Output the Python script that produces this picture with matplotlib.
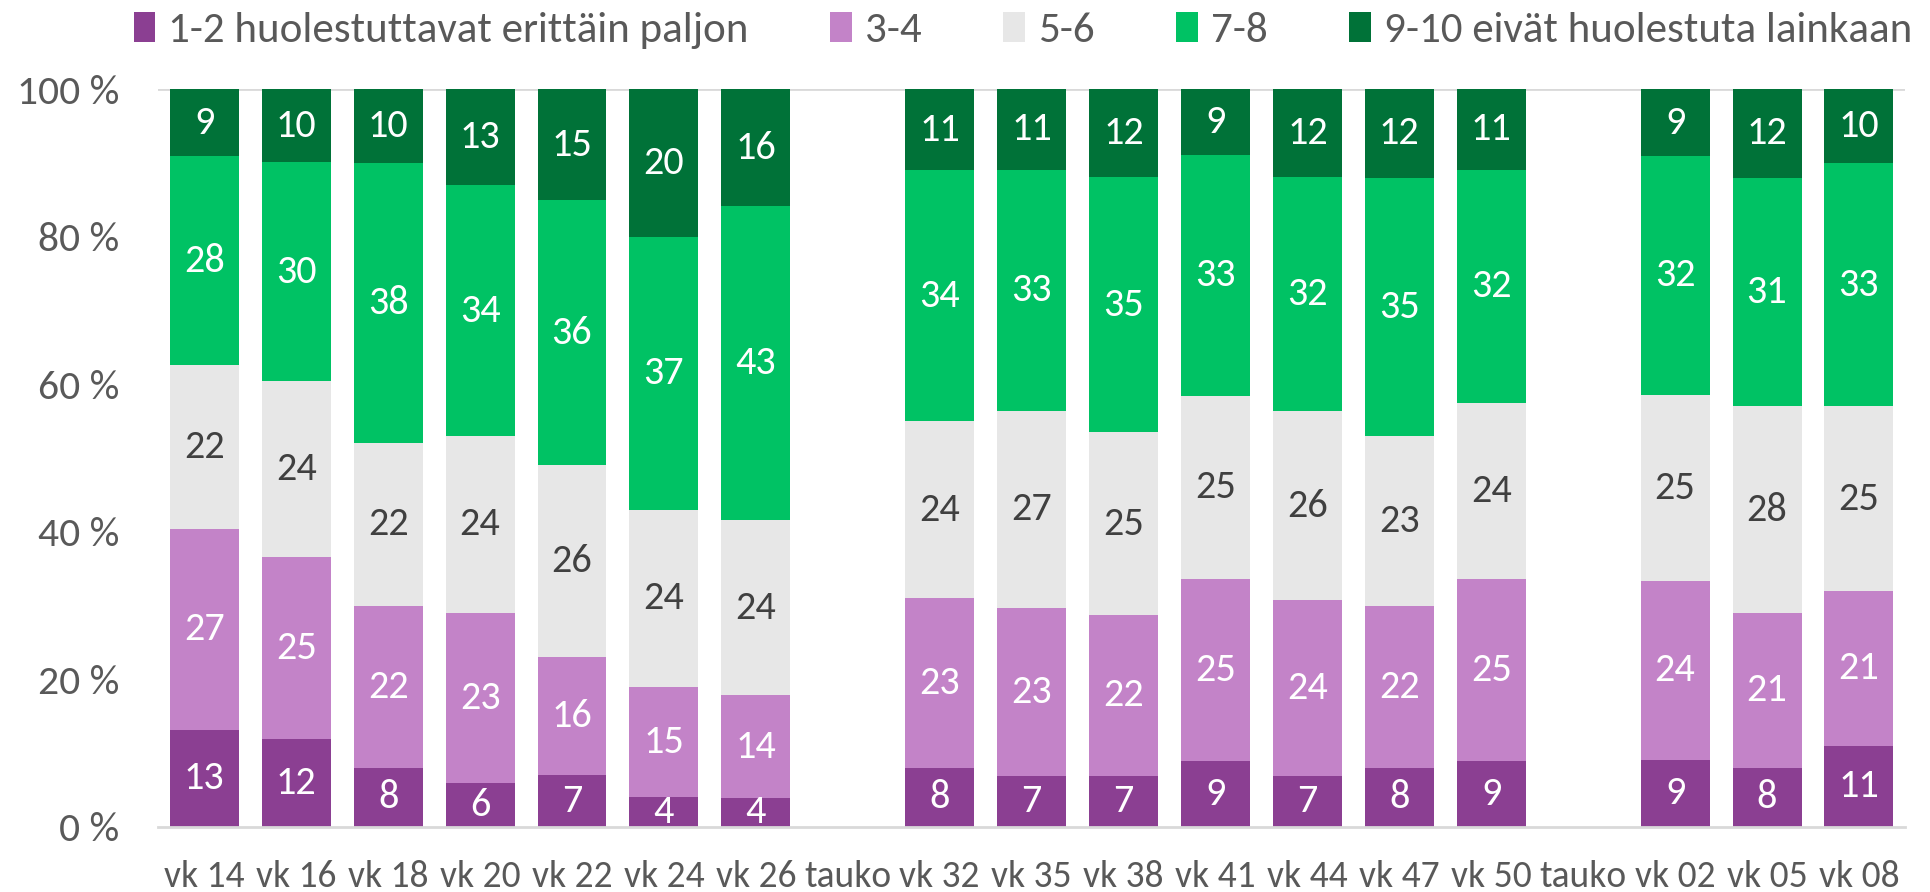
import numpy as np
import matplotlib.pyplot as plt
from matplotlib import font_manager

# Calibri Light look-alike, fall back to what is there
fams = set(f.name for f in font_manager.fontManager.ttflist)
base_font = 'DejaVu Sans'
for cand in ['Carlito', 'Liberation Sans Narrow', 'Roboto Condensed', 'Open Sans Condensed', 'Lato']:
    if cand in fams:
        base_font = cand
        break
plt.rcParams['font.family'] = [base_font, 'DejaVu Sans']

weeks = ['vk 14', 'vk 16', 'vk 18', 'vk 20', 'vk 22', 'vk 24', 'vk 26', 'tauko',
         'vk 32', 'vk 35', 'vk 38', 'vk 41', 'vk 44', 'vk 47', 'vk 50', 'tauko',
         'vk 02', 'vk 05', 'vk 08']
series = ['1-2 huolestuttavat erittäin paljon', '3-4', '5-6', '7-8',
          '9-10 eivät huolestuta lainkaan']

# None = gap ("tauko")
s12 = [13, 12, 8, 6, 7, 4, 4, None, 8, 7, 7, 9, 7, 8, 9, None, 9, 8, 11]
s34 = [27, 25, 22, 23, 16, 15, 14, None, 23, 23, 22, 25, 24, 22, 25, None, 24, 21, 21]
s56 = [22, 24, 22, 24, 26, 24, 24, None, 24, 27, 25, 25, 26, 23, 24, None, 25, 28, 25]
s78 = [28, 30, 38, 34, 36, 37, 43, None, 34, 33, 35, 33, 32, 35, 32, None, 32, 31, 33]
s910 = [9, 10, 10, 13, 15, 20, 16, None, 11, 11, 12, 9, 12, 12, 11, None, 9, 12, 10]

colors = ['#8B3F92', '#C383C8', '#E7E7E7', '#00C264', '#007238']
text_colors = ['white', 'white', '#404040', 'white', 'white']

data = np.array([[np.nan if v is None else v for v in s] for s in [s12, s34, s56, s78, s910]], dtype=float)
totals = np.nansum(data, axis=0)
totals[totals == 0] = 1
pct = data / totals * 100

fig = plt.figure(figsize=(19.31, 8.92), dpi=100)
ax = fig.add_axes([0.082, 0.073, 0.9045, 0.827])

x = np.arange(len(weeks))
bottom = np.zeros(len(weeks))
for i in range(5):
    h = np.nan_to_num(pct[i])
    bars = ax.bar(x, h, 0.75, bottom=bottom, color=colors[i], label=series[i], zorder=2)
    labels = ['' if np.isnan(v) else '%d' % v for v in data[i]]
    ax.bar_label(bars, labels=labels, label_type='center', color=text_colors[i], fontsize=29)
    bottom += h

ax.set_xlim(-0.5, len(weeks) - 0.5)
ax.set_ylim(0, 100)
ax.set_yticks([0, 20, 40, 60, 80, 100])
ax.set_yticklabels(['%d %%' % v for v in [0, 20, 40, 60, 80, 100]])
ax.set_xticks(x)
ax.set_xticklabels(weeks)
ax.tick_params(axis='both', length=0, labelcolor='#595959')
ax.tick_params(axis='x', labelsize=27, pad=24)
ax.tick_params(axis='y', labelsize=30, pad=28)
for s in ['left', 'right', 'top']:
    ax.spines[s].set_visible(False)
ax.spines['bottom'].set_color('#D9D9D9')
ax.spines['bottom'].set_linewidth(2)
ax.axhline(100, color='#D9D9D9', linewidth=2, zorder=1)

leg = ax.legend(loc='center', bbox_to_anchor=(0.495, 1.08), ncol=5, frameon=False,
                fontsize=31, handlelength=0.5, handleheight=0.7, handletextpad=0.3,
                columnspacing=1.9, labelcolor='#595959')

fig.savefig('out.png', dpi=100)
